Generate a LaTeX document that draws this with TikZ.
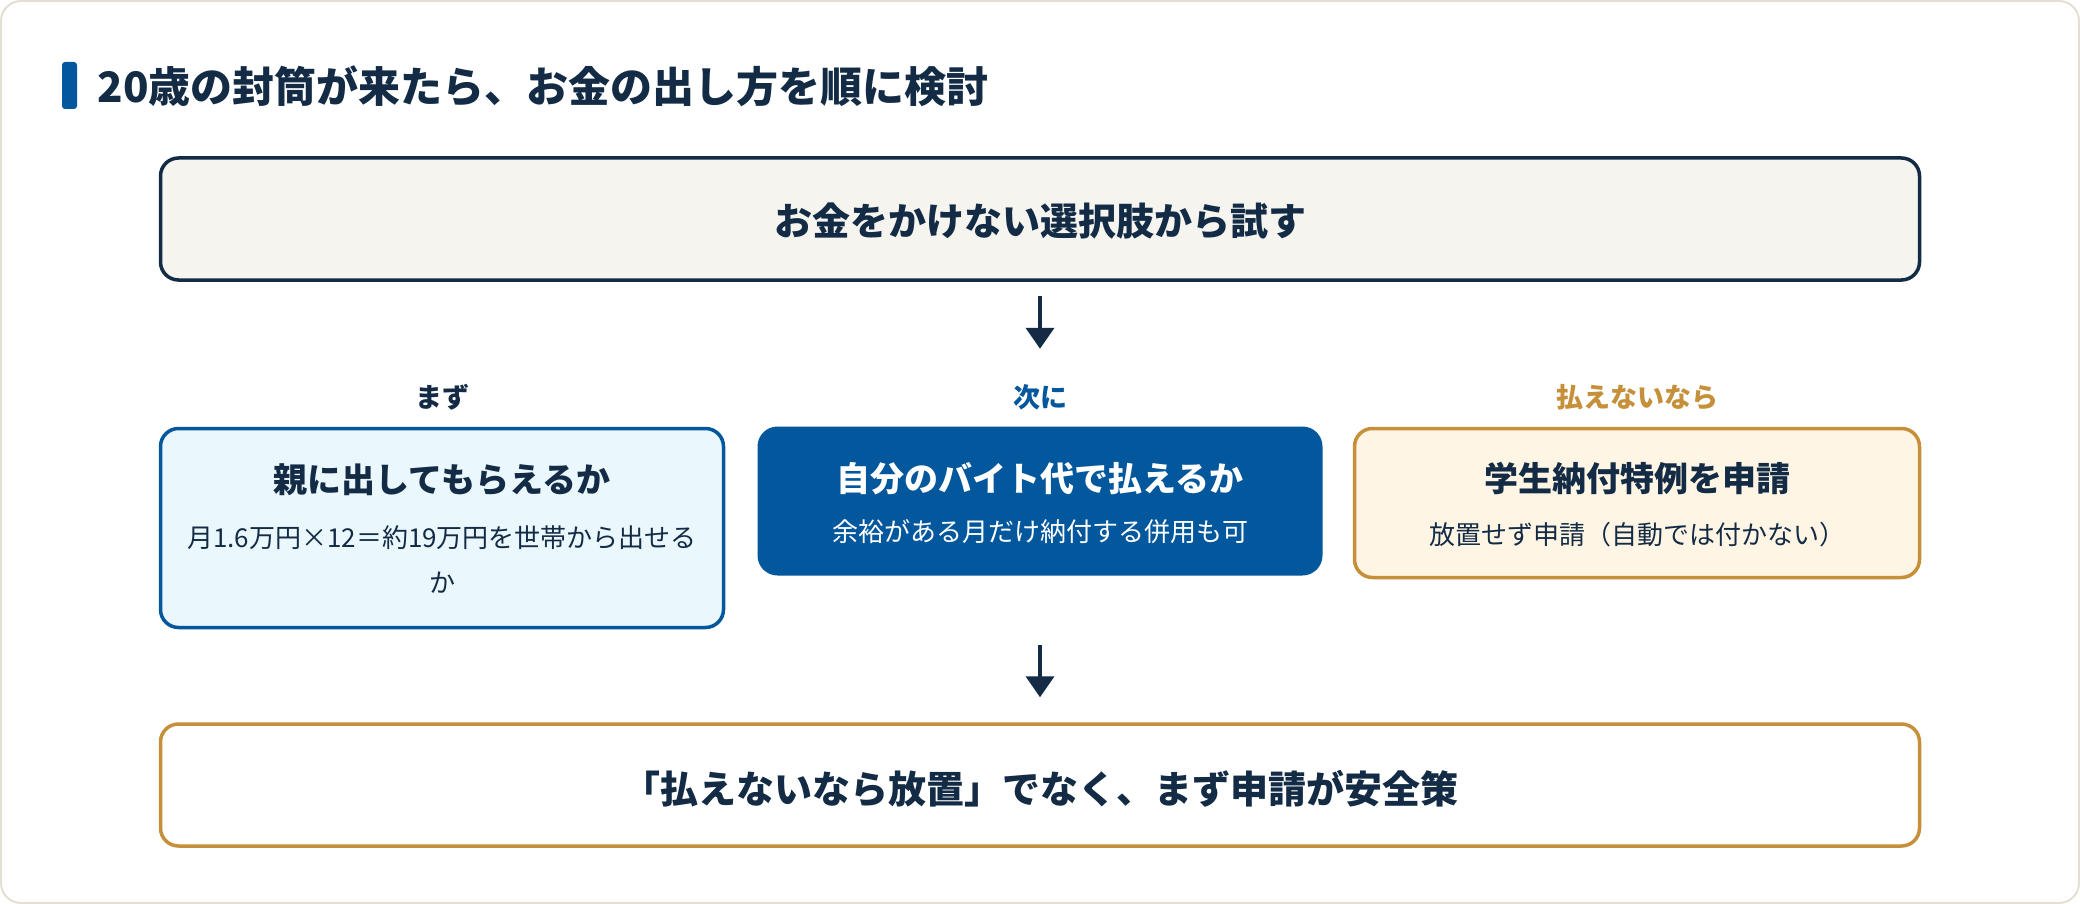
\documentclass[tikz,border=0pt]{standalone}
\usepackage{fontspec}
\setmainfont{Noto Sans CJK JP}
\usetikzlibrary{arrows.meta}
\definecolor{navy}{HTML}{132B45}
\definecolor{primary}{HTML}{03579D}
\definecolor{gold}{HTML}{C6903A}
\definecolor{paper}{HTML}{F5F4EF}
\definecolor{sky}{HTML}{EAF7FD}
\definecolor{cream}{HTML}{FFF5E4}
\definecolor{frame}{HTML}{E3E0D3}

\begin{document}
\begin{tikzpicture}[x=1pt, y=-1pt,
    card/.style={rectangle, rounded corners=18pt, line width=3.5pt, inner sep=0pt},
    head/.style={text=navy, font=\bfseries\fontsize{34}{40}\selectfont},
    note/.style={text=navy, font=\fontsize{26}{32}\selectfont},
    tag/.style={font=\bfseries\fontsize{27}{32}\selectfont},
    arrow/.style={-{Triangle[length=21pt, width=28pt]}, line width=4pt, navy}
  ]

    \draw[frame, line width=2pt, fill=white, rounded corners=20pt] (1,1) rectangle (2079,903);
    \useasboundingbox (0,0) rectangle (2080,904);

    \fill[primary, rounded corners=3pt] (62,62) rectangle (77,109);
    \node[anchor=west, text=navy, font=\bfseries\fontsize{42}{48}\selectfont] (title) at (94,86) {20歳の封筒が来たら、お金の出し方を順に検討};

    \node[card, draw=navy, fill=paper, minimum width=1759pt, minimum height=122pt] (top) at (1040,219) {};
    \node[text=navy, font=\bfseries\fontsize{38}{44}\selectfont] (toptext) at (1040,221) {お金をかけない選択肢から試す};

    \node[tag, text=navy] (first) at (442,397) {まず};
    \node[tag, text=primary] (next) at (1040,397) {次に};
    \node[tag, text=gold] (last) at (1637,397) {払えないなら};

    \node[card, draw=primary, fill=sky, minimum width=563pt, minimum height=199pt] (parent) at (442,528) {};
    \node[head] (parenthead) at (442,480) {親に出してもらえるか};
    \node[note] (parentnote) at (442,538) {月1.6万円×12＝約19万円を世帯から出せる};
    \node[note] (parentwrap) at (442,583) {か};

    \node[card, rounded corners=20pt, fill=primary, minimum width=565pt, minimum height=149pt] (self) at (1040,501) {};
    \node[head, text=white] (selfhead) at (1040,479) {自分のバイト代で払えるか};
    \node[note, text=white] (selfnote) at (1040,532) {余裕がある月だけ納付する併用も可};

    \node[card, draw=gold, fill=cream, minimum width=565pt, minimum height=149pt] (student) at (1637,503) {};
    \node[head] (studenthead) at (1637,479) {学生納付特例を申請};
    \node[note] (studentnote) at (1637,535) {放置せず申請（自動では付かない）};

    \node[card, draw=gold, fill=white, minimum width=1759pt, minimum height=122pt] (bottom) at (1040,785) {};
    \node[text=navy, font=\bfseries\fontsize{38}{44}\selectfont] (bottomtext) at (1040,789) {「払えないなら放置」でなく、まず申請が安全策};

    \draw[arrow, shorten <=14pt, shorten >=76pt] (top) -- (self);
    \draw[arrow, shorten <=68pt, shorten >=25pt] (self) -- (bottom);

  \end{tikzpicture}
\end{document}
